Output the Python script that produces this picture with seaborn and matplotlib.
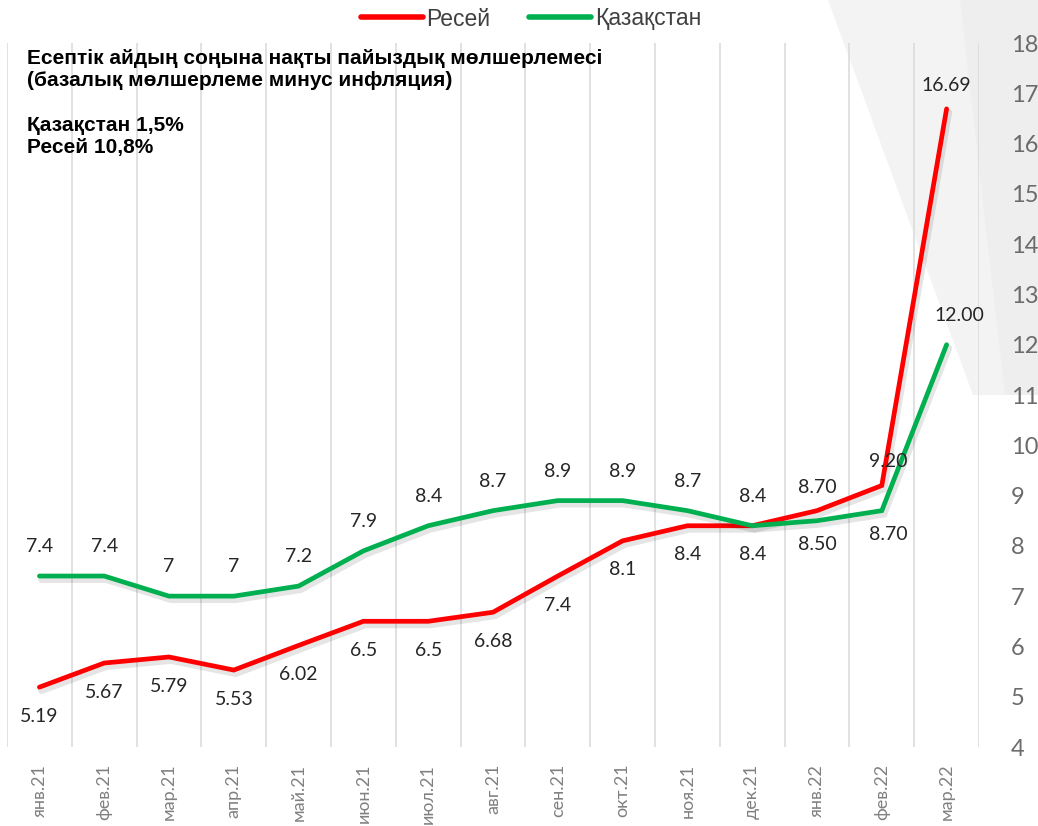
import matplotlib
matplotlib.use("Agg")
import matplotlib.pyplot as plt
import matplotlib.patheffects as pe
from matplotlib.patches import Polygon
from matplotlib.lines import Line2D
import seaborn as sns
import numpy as np
import pandas as pd

# Data
months = ["янв.21", "фев.21", "мар.21", "апр.21", "май.21", "июн.21", "июл.21",
          "авг.21", "сен.21", "окт.21", "ноя.21", "дек.21", "янв.22", "фев.22", "мар.22"]
russia = [5.19, 5.67, 5.79, 5.53, 6.02, 6.5, 6.5, 6.68, 7.4, 8.1, 8.4, 8.4, 8.70, 9.20, 16.69]
kazakhstan = [7.4, 7.4, 7, 7, 7.2, 7.9, 8.4, 8.7, 8.9, 8.9, 8.7, 8.4, 8.50, 8.70, 12.00]
russia_text = ["5.19", "5.67", "5.79", "5.53", "6.02", "6.5", "6.5", "6.68", "7.4", "8.1",
               "8.4", "8.4", "8.70", "9.20", "16.69"]
kaz_text = ["7.4", "7.4", "7", "7", "7.2", "7.9", "8.4", "8.7", "8.9", "8.9",
            "8.7", "8.4", "8.50", "8.70", "12.00"]
series_names = ["Ресей", "Қазақстан"]
y_ticks = list(range(4, 19))

# label placement: +1 above, -1 below
russia_side = [-1] * 12 + [1, 1, 1]
kaz_side = [1] * 12 + [-1, -1, 1]

colors = {"Ресей": "#FF0000", "Қазақстан": "#00B050"}

df = pd.DataFrame({
    "pos": list(range(len(months))) * 2,
    "value": russia + kazakhstan,
    "series": [series_names[0]] * len(months) + [series_names[1]] * len(months),
})

sns.set_theme(style="white")
plt.rcParams["font.family"] = ["Lato", "DejaVu Sans"]

fig = plt.figure(figsize=(10.38, 8.26), dpi=100)
fig.patch.set_facecolor("white")

# decorative grey shape in the top right corner
W, H = 1038, 826
def fc(pts):
    return [(x / W, 1 - y / H) for x, y in pts]
bg1 = Polygon(fc([(828, 0), (1038, 0), (1038, 395), (973, 395)]), closed=True,
              transform=fig.transFigure, facecolor="#f3f3f3", edgecolor="none", zorder=-2)
bg2 = Polygon(fc([(960, 0), (1038, 0), (1038, 395), (1005, 395)]), closed=True,
              transform=fig.transFigure, facecolor="#eeeeee", edgecolor="none", zorder=-1)
fig.patches.extend([bg1, bg2])

ax = fig.add_axes([7 / W, 1 - 747 / H, 972 / W, 704 / H])
ax.set_facecolor("none")

shadow = [pe.SimpleLineShadow(offset=(1.5, -2.5), shadow_color="black", alpha=0.1, linewidth=5),
          pe.Normal()]
sns.lineplot(data=df, x="pos", y="value", hue="series", palette=colors, ax=ax,
             linewidth=3.4, legend=False, sort=False)
for ln in ax.get_lines():
    ln.set_solid_capstyle("round")
    ln.set_solid_joinstyle("miter")
    ln.set_path_effects(shadow)

# data labels
for vals, texts, sides in [(russia, russia_text, russia_side), (kazakhstan, kaz_text, kaz_side)]:
    for i, (v, t, s) in enumerate(zip(vals, texts, sides)):
        off = 21 if i < 12 else 17
        dx = 0
        if i == 14 and s > 0 and v < 14:
            dx = 9
            off = 21
        if i == 13:
            dx = 5
        ax.annotate(t, (i, v), xytext=(dx, s * off), textcoords="offset points",
                    ha="center", va="center", fontsize=14, color="#262626")

ax.set_xlim(-0.5, len(months) - 0.5)
ax.set_ylim(4, 18)
ax.set_xticks(range(len(months)))
ax.set_xticklabels(months, rotation=90, fontsize=13, color="#808080")
ax.set_xticks(np.arange(-0.5, len(months), 1), minor=True)
ax.set_yticks(y_ticks)
ax.set_yticklabels([str(t) for t in y_ticks], fontsize=17, color="#6b6b6b")
ax.yaxis.tick_right()
ax.tick_params(axis="y", length=0, pad=23)
ax.tick_params(axis="x", which="both", length=0, pad=12)
ax.grid(False)
ax.grid(True, axis="x", which="minor", color="#d9d9d9", linewidth=1.1)
ax.set_xlabel("")
ax.set_ylabel("")
for sp in ax.spines.values():
    sp.set_visible(False)

# legend
handles = [Line2D([0], [0], color=colors[n], linewidth=4, solid_capstyle="round") for n in series_names]
fig.legend(handles, series_names, loc="center", bbox_to_anchor=(531 / W, 1 - 19 / H), ncol=2,
           frameon=False, handlelength=2.7, handletextpad=0.15, columnspacing=1.7,
           prop={"family": ["Liberation Sans Narrow", "Liberation Sans", "DejaVu Sans"], "size": 16.5},
           labelcolor="#404040")

# caption
caption = ("Есептік айдың соңына нақты пайыздық мөлшерлемесі\n"
           "(базалық мөлшерлеме минус инфляция)\n\n"
           "Қазақстан 1,5%\n"
           "Ресей 10,8%")
fig.text(27 / W, 1 - 49 / H, caption, ha="left", va="top", fontsize=15, fontweight="bold",
         color="black", linespacing=1.22, family=["Liberation Sans", "DejaVu Sans"])

fig.savefig("out.png", dpi=100)
